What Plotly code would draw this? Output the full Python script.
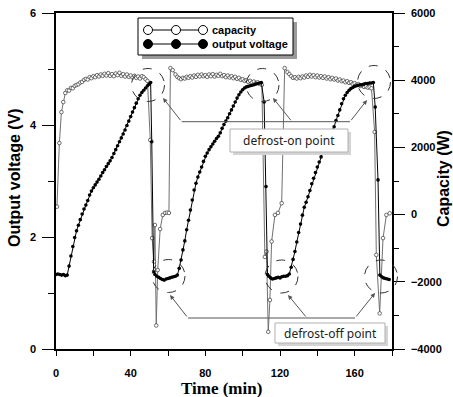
import plotly.graph_objects as go

# ---------------- data ----------------
t_cap = [0.5, 1.8, 2.9, 3.9, 5, 6, 7, 8, 9, 10, 11, 12, 13, 14, 15, 16, 17, 18, 19, 20,
         21, 22, 23, 24, 25, 26, 27, 28, 29, 30, 31, 32, 33, 34, 35, 36, 37, 38, 39, 40,
         41, 42, 43, 44, 45, 46, 47, 48, 49,
         50.5, 51.5, 52.5, 53, 53.7, 54.5, 55.8, 57.2, 58.4, 59.5, 60.5, 61.3, 62.5,
         64, 65, 66, 67, 68, 69, 70, 71, 72, 73, 74, 75, 76, 77, 78, 79, 80, 81, 82, 83,
         84, 85, 86, 87, 88, 89, 90, 91, 92, 93, 94, 95, 96, 97, 98, 99, 100, 101, 102,
         103, 104, 105, 106, 107, 108, 109, 110.3,
         111.9, 112.8, 113.7, 114.6, 115.5, 117.3, 118.9, 120.9, 122.5,
         124, 125, 126, 127, 128, 129, 130, 131, 132, 133, 134, 135, 136, 137, 138, 139,
         140, 141, 142, 143, 144, 145, 146, 147, 148, 149, 150, 151, 152, 153, 154, 155,
         156, 157, 158, 159, 160, 161, 162, 163, 164, 165, 166, 167, 168, 169,
         170.7, 171.6, 173.4, 175.2, 177, 178.8]
capacity = [235, 2130, 3050, 3350, 3620, 3700, 3690, 3770, 3760, 3830, 3860, 3880, 3930, 3950,
            4010, 4040, 4020, 4090, 4060, 4120, 4090, 4150, 4110, 4170, 4130, 4190, 4140, 4210,
            4130, 4180, 4120, 4200, 4150, 4220, 4130, 4180, 4110, 4170, 4100, 4140, 4080, 4130,
            4070, 4110, 4050, 4120, 4090, 4030, 3980,
            2220, -700, -1400, -310, -3300, -1650, -430, -10, 50, 60, 50, 4360, 4300,
            4170, 4100, 4060, 4030, 4070, 4050, 4100, 4070, 4120, 4080, 4140, 4100, 4160, 4110,
            4170, 4120, 4150, 4100, 4170, 4120, 4180, 4110, 4160, 4130, 4190, 4120, 4150, 4090,
            4140, 4080, 4120, 4060, 4100, 4040, 4070, 4010, 4030, 3980, 4000, 3950, 3980, 3930,
            3960, 3910, 3940, 3890, 3860,
            -1260, -1100, -3490, -2540, -800, -10, 50, 340, 4360,
            4240, 4180, 4120, 4070, 4090, 4050, 4100, 4060, 4110, 4080, 4140, 4100, 4160, 4110,
            4150, 4090, 4140, 4080, 4120, 4070, 4110, 4050, 4090, 4030, 4070, 4020, 4050, 3990,
            4020, 3970, 3990, 3940, 3970, 3920, 3940, 3890, 3910, 3860, 3880, 3830, 3850, 3800,
            3820, 3780, 3790, 3760,
            2460, -1200, -2940, -700, -10, 40]

t_volt = [0, 1, 2, 3, 4, 5, 6, 7, 8, 9, 10, 11, 12, 13, 14, 15, 16, 17, 18, 19, 20,
          21, 22, 23, 24, 25, 26, 27, 28, 29, 30, 31, 32, 33, 34, 35, 36, 37, 38, 39, 40,
          41, 42, 43, 44, 45, 46, 47, 48, 49, 50, 50.7, 51.3, 52.3,
          53, 54, 55, 56, 57, 58, 59, 60, 61, 62, 63, 64, 65, 66, 67, 68, 69, 70,
          71, 72, 73, 74, 75, 76, 77, 78, 79, 80, 81, 82, 83, 84, 85, 86, 87, 88, 89, 90,
          91, 92, 93, 94, 95, 96, 97, 98, 99, 100, 101, 102, 103, 104, 105, 106, 107, 108,
          109, 110, 111.5, 112.5, 113.3,
          114, 115, 116, 117, 118, 119, 120, 121, 122, 123, 124, 125, 126, 127, 128, 129,
          130, 131, 132, 133, 134, 135, 136, 137, 138, 139, 140, 141, 142, 143, 144, 145,
          146, 147, 148, 149, 150, 151, 152, 153, 154, 155, 156, 157, 158, 159, 160, 161,
          162, 163, 164, 165, 166, 167, 168, 169, 170, 171, 172.5, 173.5, 174.5, 175.5,
          176.5, 177.5, 178.5]
voltage = [1.33, 1.34, 1.33, 1.32, 1.33, 1.31, 1.32, 1.48, 1.66, 1.83, 1.99, 2.11, 2.21, 2.31,
           2.41, 2.50, 2.57, 2.65, 2.75, 2.82, 2.88, 2.93, 2.98, 3.03, 3.09, 3.15, 3.20, 3.26,
           3.31, 3.36, 3.42, 3.49, 3.56, 3.63, 3.70, 3.77, 3.84, 3.91, 3.99, 4.07, 4.15, 4.23,
           4.31, 4.39, 4.47, 4.53, 4.58, 4.62, 4.66, 4.70, 4.73, 4.76, 3.70, 1.38,
           1.33, 1.30, 1.28, 1.26, 1.24, 1.23, 1.25, 1.26, 1.27, 1.28, 1.29, 1.30, 1.32, 1.44,
           1.59, 1.77, 1.93, 2.13, 2.30, 2.48, 2.66, 2.84, 2.96, 3.07, 3.16, 3.25, 3.35, 3.44,
           3.50, 3.56, 3.61, 3.66, 3.71, 3.76, 3.80, 3.86, 3.94, 4.01, 4.07, 4.13, 4.20, 4.27,
           4.34, 4.41, 4.48, 4.54, 4.59, 4.63, 4.66, 4.68, 4.69, 4.70, 4.71, 4.72, 4.73, 4.74,
           4.75, 4.76, 4.41, 2.90, 1.33,
           1.30, 1.27, 1.25, 1.26, 1.27, 1.28, 1.27, 1.29, 1.30, 1.30, 1.31, 1.34, 1.46, 1.60,
           1.74, 1.91, 2.08, 2.23, 2.39, 2.53, 2.62, 2.72, 2.83, 2.95, 3.05, 3.15, 3.25, 3.34,
           3.43, 3.52, 3.60, 3.69, 3.77, 3.84, 3.90, 3.97, 4.08, 4.17, 4.27, 4.38, 4.47, 4.53,
           4.58, 4.62, 4.65, 4.67, 4.69, 4.70, 4.71, 4.72, 4.72, 4.73, 4.74, 4.74, 4.75, 4.75,
           4.76, 4.32, 3.02, 1.32, 1.29, 1.27, 1.26, 1.25, 1.24]

x_ticks = [0, 40, 80, 120, 160]
v_ticks = [0, 2, 4, 6]
c_ticks = [-4000, -2000, 0, 2000, 4000, 6000]

legend_names = ["capacity", "output voltage"]
note_on = "defrost-on point"
note_off = "defrost-off point"
x_title = "Time (min)"
v_title = "Output voltage (V)"
c_title = "Capacity (W)"

# ---------------- figure ----------------
W, H = 453, 397
L, R, T, B = 56, 392, 13, 349   # plot-area edges in pixels


def px(x):
    return (x - L) / (R - L)


def py(y):
    return (B - y) / (B - T)


sans = "Liberation Sans, Arial, sans-serif"
tick_font = dict(family=sans, size=11, color="black", weight="bold")

fig = go.Figure()
fig.add_trace(go.Scatter(
    x=t_cap, y=capacity, yaxis="y", name=legend_names[0], mode="lines+markers",
    line=dict(color="#707070", width=1),
    marker=dict(symbol="circle", size=3.6, color="white", line=dict(color="#333333", width=0.7)),
    showlegend=False))
fig.add_trace(go.Scatter(
    x=t_volt, y=voltage, yaxis="y2", name=legend_names[1], mode="lines+markers",
    line=dict(color="black", width=1),
    marker=dict(symbol="circle", size=3.6, color="black"),
    showlegend=False))

shapes = []
annots = []

# dashed circles
on_centers = [(148, 85), (262.5, 85), (374, 82)]
off_centers = [(168.5, 276), (281.5, 276.5), (381, 276.5)]
for cx, cy in on_centers + off_centers:
    shapes.append(dict(type="circle", xref="paper", yref="paper", xsizemode="pixel", ysizemode="pixel",
                       xanchor=px(cx), yanchor=py(cy), x0=-16.5, x1=16.5, y0=-16.5, y1=16.5,
                       line=dict(color="#333333", width=1, dash="dash")))


def connector(h_y, xs, tips):
    shapes.append(dict(type="line", xref="paper", yref="paper", x0=px(xs[0]), x1=px(xs[-1]),
                       y0=py(h_y), y1=py(h_y), line=dict(color="#555555", width=1)))
    for jx, (tx, ty) in zip(xs, tips):
        annots.append(dict(xref="paper", yref="paper", x=px(tx), y=py(ty), text="",
                           showarrow=True, axref="pixel", ayref="pixel",
                           ax=jx - tx, ay=h_y - ty, arrowhead=2, arrowsize=0.9,
                           arrowwidth=1, arrowcolor="#555555"))


connector(121.7, [181.7, 292, 350], [(163, 98), (273, 98), (367, 100)])
connector(318, [188, 307, 355], [(170, 295), (288, 295), (375, 293)])


def note_box(x0, y0, x1, y1, text, font_size):
    shapes.append(dict(type="rect", xref="paper", yref="paper", x0=px(x0 + 3), x1=px(x1 + 3),
                       y0=py(y0 + 3), y1=py(y1 + 3), line=dict(width=0), fillcolor="#d4d4d4"))
    shapes.append(dict(type="rect", xref="paper", yref="paper", x0=px(x0), x1=px(x1),
                       y0=py(y0), y1=py(y1), line=dict(color="#b0b0b0", width=1), fillcolor="white"))
    annots.append(dict(xref="paper", yref="paper", x=px((x0 + x1) / 2), y=py((y0 + y1) / 2),
                       text=text, showarrow=False, xanchor="center", yanchor="middle",
                       font=dict(family="Noto Sans, Open Sans, sans-serif", size=font_size, color="#222222")))


note_box(230, 129, 348, 152, note_on, 12)
note_box(275, 323, 385, 343, note_off, 12)

# custom legend
shapes.append(dict(type="rect", xref="paper", yref="paper", x0=px(142), x1=px(297), y0=py(22), y1=py(59),
                   line=dict(width=0), fillcolor="#9a9a9a"))
shapes.append(dict(type="rect", xref="paper", yref="paper", x0=px(138), x1=px(293), y0=py(18), y1=py(55),
                   line=dict(color="black", width=1), fillcolor="white"))
for row_y, fill in [(30, "white"), (44, "black")]:
    shapes.append(dict(type="line", xref="paper", yref="paper", x0=px(148), x1=px(203),
                       y0=py(row_y), y1=py(row_y), line=dict(color="black", width=1)))
    for mx in [148, 176, 203]:
        shapes.append(dict(type="circle", xref="paper", yref="paper", xsizemode="pixel", ysizemode="pixel",
                           xanchor=px(mx), yanchor=py(row_y), x0=-4.5, x1=4.5, y0=-4.5, y1=4.5,
                           line=dict(color="black", width=1), fillcolor=fill))
for row_y, name in [(30, legend_names[0]), (44, legend_names[1])]:
    annots.append(dict(xref="paper", yref="paper", x=px(210), y=py(row_y), text=name, showarrow=False,
                       xanchor="left", yanchor="middle",
                       font=dict(family=sans, size=11, color="black", weight="bold")))

# axis titles
annots.append(dict(xref="paper", yref="paper", x=px(221), y=py(388), text=x_title, showarrow=False,
                   xanchor="center", yanchor="middle",
                   font=dict(family="Liberation Serif, Times New Roman, serif", size=17,
                             color="black", weight="bold")))
annots.append(dict(xref="paper", yref="paper", x=px(14), y=py(178), text=v_title, showarrow=False,
                   textangle=-90, xanchor="center", yanchor="middle",
                   font=dict(family=sans, size=16, color="black", weight="bold")))
annots.append(dict(xref="paper", yref="paper", x=px(443), y=py(178), text=c_title, showarrow=False,
                   textangle=-90, xanchor="center", yanchor="middle",
                   font=dict(family=sans, size=16, color="black", weight="bold")))

fig.update_layout(
    width=W, height=H,
    margin=dict(l=L, r=W - R, t=T, b=H - B, pad=0, autoexpand=False),
    paper_bgcolor="white", plot_bgcolor="white",
    hovermode=False,
    xaxis=dict(range=[0, 180], tickvals=x_ticks, ticks="outside", ticklen=5, tickwidth=1, tickcolor="black",
               minor=dict(dtick=20, tick0=0, ticks="outside", ticklen=5, tickwidth=1, tickcolor="black"),
               showline=True, linecolor="black", linewidth=1.5, mirror=True, automargin=False,
               showgrid=False, zeroline=False, tickfont=tick_font, ticklabelstandoff=8,
               ticklabeloverflow="allow"),
    yaxis=dict(range=[-4000, 6000], side="right", tickvals=c_ticks, ticks="outside", ticklen=11,
               tickwidth=1, tickcolor="black",
               minor=dict(dtick=1000, tick0=0, ticks="outside", ticklen=5, tickwidth=1, tickcolor="black"),
               showline=True, linecolor="black", linewidth=1.5, automargin=False,
               showgrid=False, zeroline=False, tickfont=tick_font, ticklabelstandoff=4,
               ticklabeloverflow="allow"),
    yaxis2=dict(range=[0, 6], side="left", overlaying="y", tickvals=v_ticks, ticks="outside", ticklen=12,
                tickwidth=1, tickcolor="black",
                minor=dict(dtick=1, tick0=0, ticks="outside", ticklen=6, tickwidth=1, tickcolor="black"),
                showline=True, linecolor="black", linewidth=1.5, automargin=False,
                showgrid=False, zeroline=False, tickfont=tick_font, ticklabelstandoff=4,
                ticklabeloverflow="allow"),
    shapes=shapes,
    annotations=annots,
)

# remove the browser's default 8 px page margin so the figure sits at the window origin
fig.write_html("out.html",
               config={"displayModeBar": False},
               post_script="document.body.style.margin='0px';document.body.style.overflow='hidden';")
